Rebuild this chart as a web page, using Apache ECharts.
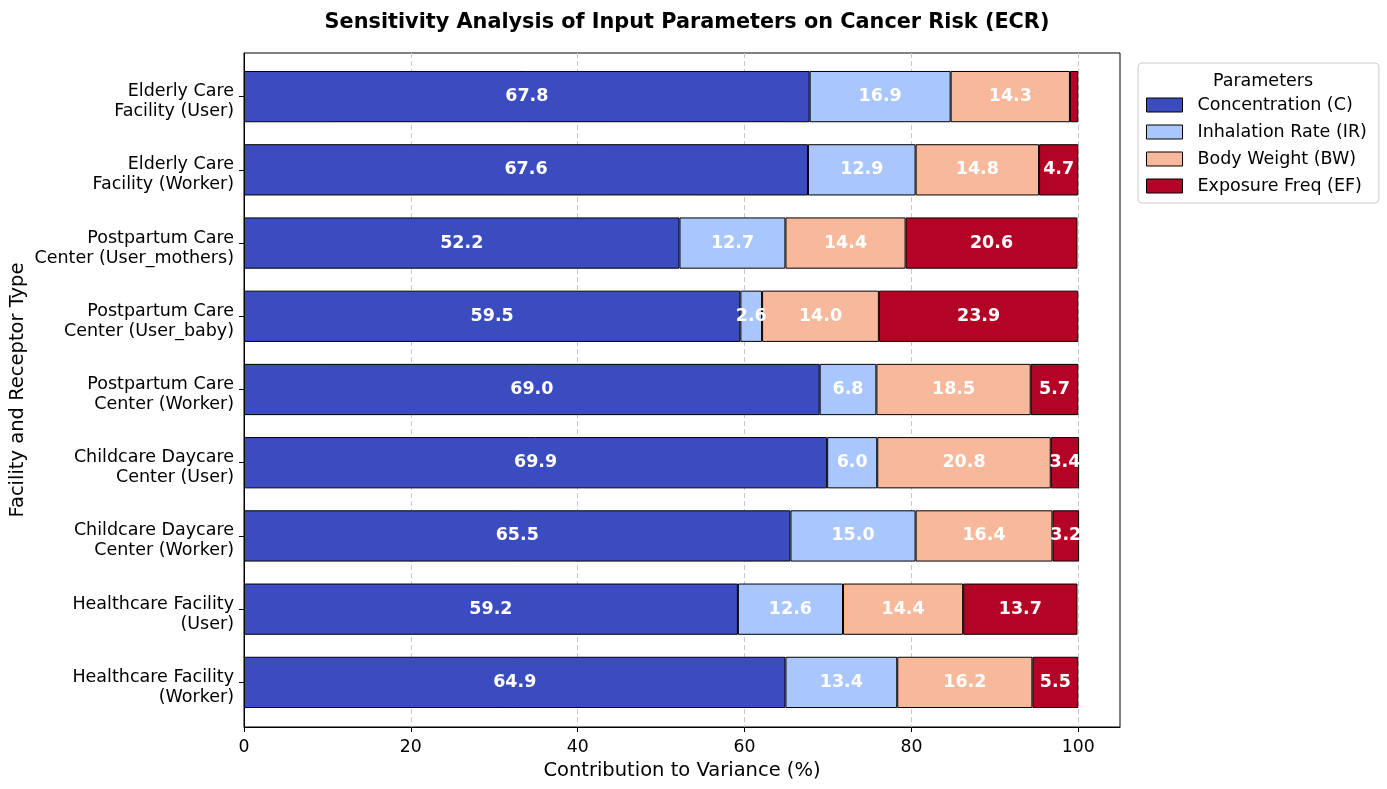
<!DOCTYPE html>
<html><head><meta charset="utf-8">
<script src="https://cdn.jsdelivr.net/npm/echarts@6/dist/echarts.min.js"></script>
<style>html,body{margin:0;padding:0;background:#fff}#c{width:1387px;height:789px}</style>
</head><body><div id="c"></div>
<script>
const categories = [
  "Elderly Care\nFacility (User)",
  "Elderly Care\nFacility (Worker)",
  "Postpartum Care\nCenter (User_mothers)",
  "Postpartum Care\nCenter (User_baby)",
  "Postpartum Care\nCenter (Worker)",
  "Childcare Daycare\nCenter (User)",
  "Childcare Daycare\nCenter (Worker)",
  "Healthcare Facility\n(User)",
  "Healthcare Facility\n(Worker)"
];
const concentration = [67.8, 67.6, 52.2, 59.5, 69.0, 69.9, 65.5, 59.2, 64.9];
const inhalationRate = [16.9, 12.9, 12.7, 2.6, 6.8, 6.0, 15.0, 12.6, 13.4];
const bodyWeight = [14.3, 14.8, 14.4, 14.0, 18.5, 20.8, 16.4, 14.4, 16.2];
const exposureFreq = [1.0, 4.7, 20.6, 23.9, 5.7, 3.4, 3.2, 13.7, 5.5];
const seriesNames = ["Concentration (C)", "Inhalation Rate (IR)", "Body Weight (BW)", "Exposure Freq (EF)"];
const seriesColors = ["#3b4cc0", "#aac7fd", "#f7b89c", "#b40426"];
const seriesData = [concentration, inhalationRate, bodyWeight, exposureFreq];

const FONT = "DejaVu Sans";
const chart = echarts.init(document.getElementById('c'), null, {renderer: 'canvas'});
chart.setOption({
  animation: false,
  textStyle: {fontFamily: FONT},
  title: [
    {text: "Sensitivity Analysis of Input Parameters on Cancer Risk (ECR)", left: 682, top: 7, textAlign: 'center',
     textStyle: {fontFamily: FONT, fontWeight: 'bold', fontSize: 20.8, color: '#000'}},
    {text: "Parameters", left: 1258, top: 67, textAlign: 'center',
     textStyle: {fontFamily: FONT, fontWeight: 'normal', fontSize: 17.5, color: '#000'}}
  ],
  legend: {
    orient: 'vertical', left: 1138, top: 63,
    padding: [33, 12, 8, 8],
    borderColor: '#cccccc', borderWidth: 1, borderRadius: 4,
    itemWidth: 36, itemHeight: 14, itemGap: 9,
    textStyle: {fontFamily: FONT, fontSize: 17.5, lineHeight: 18, color: '#000', padding: [0, 0, 0, 10]},
    data: seriesNames.map(n => ({name: n, icon: 'rect'})),
    itemStyle: {borderColor: '#000', borderWidth: 1}
  },
  grid: [
    {left: 244, right: 267, top: 53, bottom: 62, show: true, borderColor: '#000', borderWidth: 1,
     backgroundColor: 'transparent', outerBoundsMode: 'none', containLabel: false},
    {left: 244, right: 267, top: 60, bottom: 70, outerBoundsMode: 'none', containLabel: false}
  ],
  xAxis: [
    {type: 'value', gridIndex: 0, min: 0, max: 105, interval: 20,
     name: "Contribution to Variance (%)", nameLocation: 'middle', nameGap: 33,
     nameTextStyle: {fontFamily: FONT, fontSize: 19.5, color: '#000'},
     axisLine: {show: true, lineStyle: {color: '#000'}},
     axisTick: {show: true, length: 5, lineStyle: {color: '#000'}},
     axisLabel: {fontFamily: FONT, fontSize: 17.3, color: '#000', margin: 12, showMaxLabel: false,
       formatter: v => (v % 20 === 0 ? String(v) : '')},
     splitLine: {show: true, showMinLine: false, showMaxLine: false,
       lineStyle: {color: '#c8c8c8', type: [5, 3], width: 1}}},
    {type: 'value', gridIndex: 1, min: 0, max: 105, show: false, splitLine: {show: false}}
  ],
  yAxis: [
    {type: 'value', gridIndex: 0, min: 0, max: 1, show: true,
     name: "Facility and Receptor Type", nameLocation: 'middle', nameGap: 216, nameRotate: 90,
     nameTextStyle: {fontFamily: FONT, fontSize: 19.5, color: '#000'},
     axisLine: {show: true, lineStyle: {color: '#000'}}, axisTick: {show: false}, axisLabel: {show: false}, splitLine: {show: false}},
    {type: 'category', gridIndex: 1, data: categories, inverse: true,
     axisLine: {show: false},
     axisTick: {show: true, alignWithLabel: true, length: 5, lineStyle: {color: '#000'}},
     axisLabel: {color: '#000', margin: 10, align: 'right',
       formatter: v => '{s| }\n' + v.split('\n').map(t => '{a|' + t + '}').join('\n'),
       rich: {
         s: {fontSize: 2, lineHeight: 10},
         a: {fontFamily: FONT, fontSize: 17.5, lineHeight: 20, color: '#000', align: 'right'}
       }}}
  ],
  series: seriesData.map((d, i) => ({
    name: seriesNames[i], type: 'bar', stack: 'total', xAxisIndex: 1, yAxisIndex: 1,
    data: d, barWidth: '70%',
    itemStyle: {color: seriesColors[i], borderColor: '#000', borderWidth: 1},
    label: {show: true, position: 'inside', color: '#fff', fontFamily: FONT, fontWeight: 'bold', fontSize: 17.5,
      formatter: p => (p.value > 2 ? p.value.toFixed(1) : '')}
  }))
});
</script></body></html>
